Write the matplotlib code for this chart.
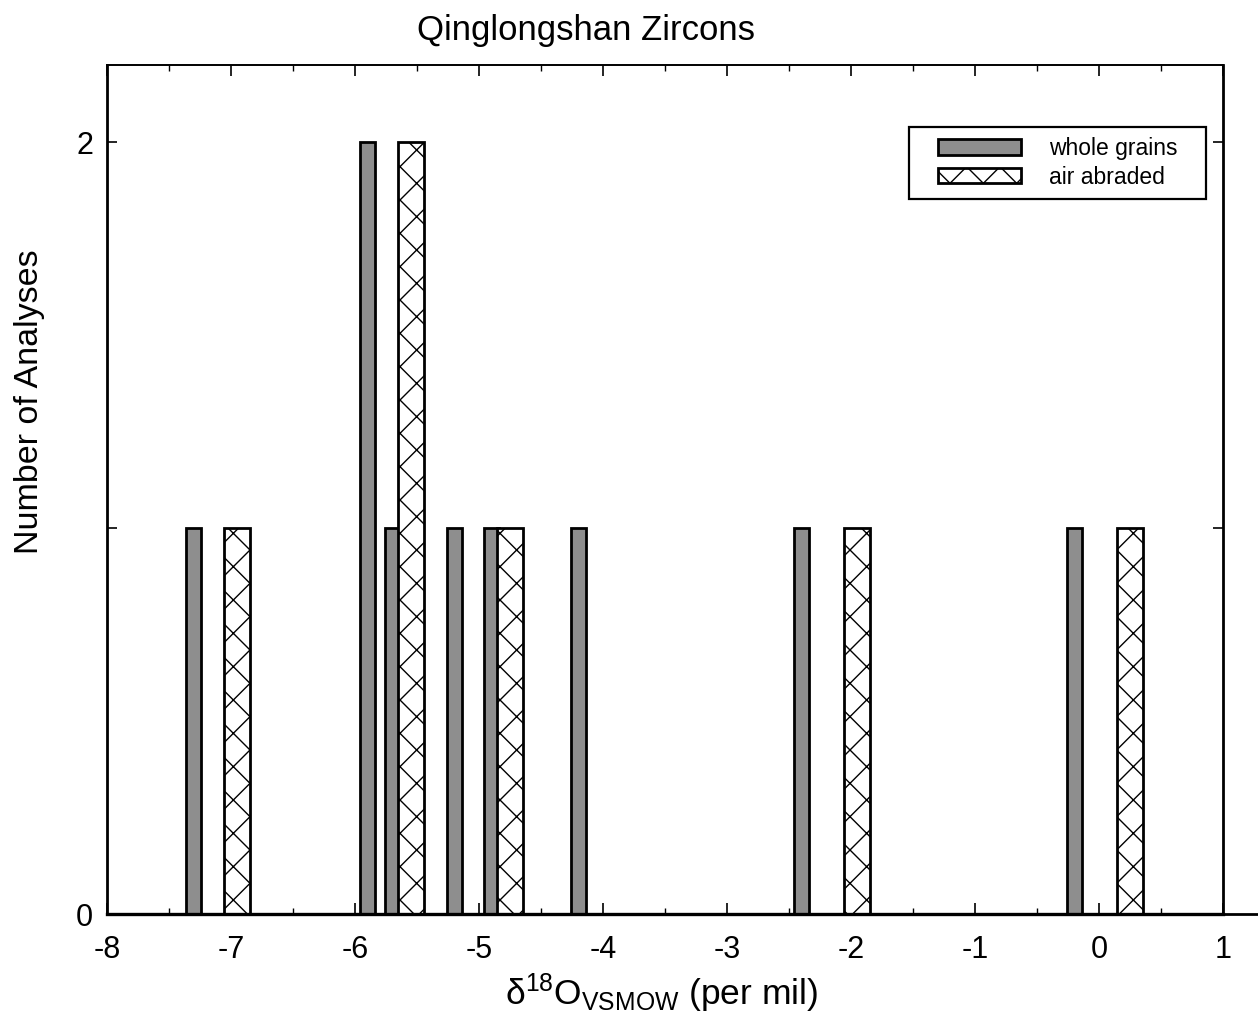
import matplotlib
matplotlib.use("Agg")
import matplotlib.pyplot as plt
from matplotlib.lines import Line2D
from matplotlib.patches import Rectangle
from matplotlib.ticker import MultipleLocator, FixedLocator

plt.rcParams['font.family'] = ['Liberation Sans', 'DejaVu Sans']
plt.rcParams['mathtext.fontset'] = 'custom'
plt.rcParams['mathtext.rm'] = 'Liberation Sans'
plt.rcParams['mathtext.it'] = 'Liberation Sans:italic'
plt.rcParams['hatch.linewidth'] = 1.0

# Data
whole_x = [-7.3, -5.9, -5.7, -5.2, -4.9, -4.2, -2.4, -0.2]
whole_n = [1, 2, 1, 1, 1, 1, 1, 1]
abraded_x = [-6.95, -5.55, -4.75, -1.95, 0.25]
abraded_n = [1, 2, 1, 1, 1]
x_ticks = [-8, -7, -6, -5, -4, -3, -2, -1, 0, 1]
y_ticks = [0, 1, 2]
y_labels = ['0', '', '2']

fig = plt.figure(figsize=(12.58, 10.18), dpi=100)
ax = fig.add_axes([107/1258, 1-914/1018, 1116/1258, 849/1018])

ax.bar(whole_x, whole_n, width=0.12, color='#8e8e8e', edgecolor='black',
       linewidth=2.0, label='whole grains', zorder=2)
ax.bar(abraded_x, abraded_n, width=0.21, color='white', edgecolor='black',
       hatch='x', linewidth=2.0, label='air abraded', zorder=2)

ax.set_xlim(-8, 1)
ax.set_ylim(0, 2.2)
ax.set_xticks(x_ticks)
ax.set_xticklabels([str(v) for v in x_ticks])
ax.xaxis.set_minor_locator(MultipleLocator(0.5))
ax.yaxis.set_major_locator(FixedLocator(y_ticks))
ax.set_yticklabels(y_labels)

ax.tick_params(axis='x', which='major', direction='in', length=8, width=1.2,
               top=True, labelsize=22, pad=15)
ax.tick_params(axis='x', which='minor', direction='in', length=4, width=1.0, top=True)
ax.tick_params(axis='y', which='major', direction='in', length=7, width=1.2,
               right=True, labelsize=22, pad=10)

for side, lw in [('bottom', 2.4), ('left', 2.0), ('top', 1.4), ('right', 2.0)]:
    ax.spines[side].set_linewidth(lw)

# bottom axis line extends beyond the right spine
ax.add_line(Line2D([1.0, 1.04], [0, 0], transform=ax.transAxes, color='black',
                   linewidth=2.0, clip_on=False))

# legend frame drawn separately so that the box proportions match
ax.add_patch(Rectangle((0.7186, 0.842), 0.2662, 0.085, transform=ax.transAxes,
                       facecolor='white', edgecolor='black', linewidth=1.6, zorder=4))
leg = ax.legend(loc='center', bbox_to_anchor=(0.8517, 0.8846), borderaxespad=0,
                fontsize=16.5, handlelength=3.65, handleheight=0.65, handletextpad=1.2,
                labelspacing=0.25, borderpad=0.2, frameon=False)
leg.set_zorder(5)

fig.text(0.4658, 0.970, 'Qinglongshan Zircons', ha='center', va='center', fontsize=25)
fig.text(0.0238, 0.605, 'Number of Analyses', ha='center', va='center',
         rotation=90, fontsize=24.5)
fig.text(0.526, 0.024, r'δ$^{\mathrm{18}}$O$_{\mathrm{VSMOW}}$ (per mil)', ha='center',
         va='center', fontsize=25.5)

fig.savefig('out.png', dpi=100)
